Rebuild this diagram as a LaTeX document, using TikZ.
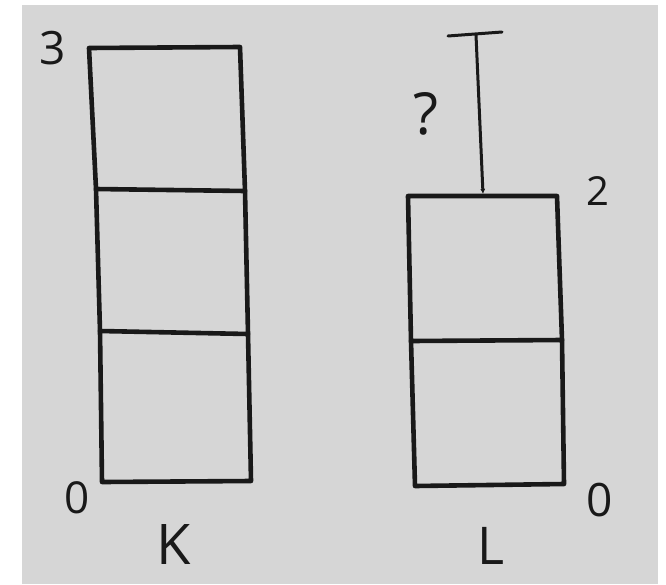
\documentclass[tikz,border=0pt]{standalone}
\usepackage{fontspec}
\setmainfont{Open Sans}
\usepackage{tikz}
\usetikzlibrary{positioning,arrows.meta}
\definecolor{paper}{RGB}{214,214,214}
\tikzset{
  pen/.style={line width=4.6pt, line cap=round, line join=round, black!90},
  thinpen/.style={line width=3pt, line cap=round, black!90},
  hand/.style={inner sep=0pt, text=black!90}
}
\begin{document}
\begin{tikzpicture}[x=1pt,y=-1pt]
\useasboundingbox (0,0) rectangle (666,584);
\fill[white] (0,0) rectangle (666,584);
\fill[paper] (22,5) rectangle (658,584);
% column K
\coordinate (k1) at (89,48);
\coordinate (k2) at (240,47);
\coordinate (k3) at (96,189);
\coordinate (k4) at (245,191);
\coordinate (k5) at (100,331);
\coordinate (k6) at (248,334);
\coordinate (k7) at (102,482);
\coordinate (k8) at (251,481);
\draw [pen] (k1) -- (k2) -- (k4) -- (k6) -- (k8) -- (k7) -- (k5) -- (k3) -- cycle;
\draw [pen] (k3) -- (k4) ;
\draw [pen] (k5) -- (k6) ;
% column L
\coordinate (l1) at (408,196);
\coordinate (l2) at (557,196);
\coordinate (l3) at (411,341);
\coordinate (l4) at (562,340);
\coordinate (l5) at (415,486);
\coordinate (l6) at (564,484);
\draw [pen] (l1) -- (l2) -- (l4) -- (l6) -- (l5) -- (l3) -- cycle;
\draw [pen] (l3) -- (l4) ;
% gap
\coordinate (t1) at (448,36);
\coordinate (t2) at (502,32);
\coordinate (t0) at (476,35);
\coordinate (t3) at (483,194);
\draw [thinpen] (t1) -- (t2) ;
\draw [thinpen,-{Latex[length=5pt,width=5pt]}] (t0) -- (t3) ;
% labels
\node [hand, font=\fontsize{46}{46}\selectfont] (three) at (53,48) {3};
\node [hand, font=\fontsize{44}{44}\selectfont] (zk) at (77,498) {0};
\node [hand, font=\fontsize{56}{56}\selectfont] (nk) at (174,545) {K};
\node [hand, font=\fontsize{40}{40}\selectfont] (two) at (598,191) {2};
\node [hand, font=\fontsize{46}{46}\selectfont] (zl) at (600,500) {0};
\node [hand, font=\fontsize{52}{52}\selectfont] (nl) at (491,546) {L};
\node [hand, font=\fontsize{58}{58}\selectfont] (qm) at (426,114) {?};
\end{tikzpicture}
\end{document}
